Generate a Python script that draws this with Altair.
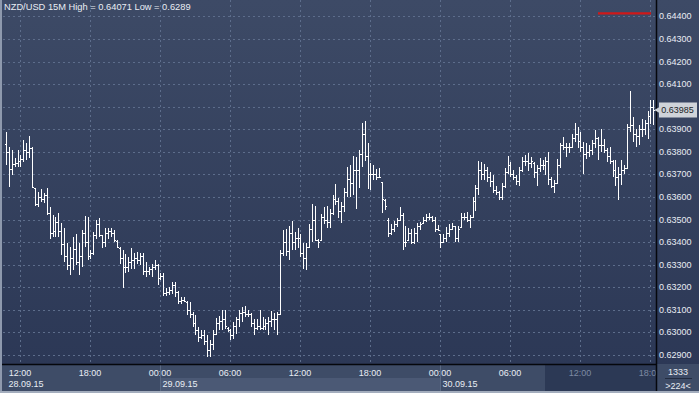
import altair as alt
import pandas as pd

TITLE = "NZD/USD 15M High = 0.64071 Low = 0.6289"

# OHLC of the 15-minute bars, in points (1 point = 0.00001)
HIGH = [
    63890, 63823, 63808, 63771, 63808, 63786, 63853, 63838, 63870, 63820,
    63642, 63623, 63634, 63616, 63642, 63554, 63520, 63512, 63527, 63483,
    63461, 63394, 63379, 63424, 63438, 63394, 63453, 63515, 63512, 63364,
    63446, 63498, 63505, 63431, 63461, 63461, 63461, 63453, 63409, 63379,
    63367, 63347, 63332, 63372, 63350, 63357, 63350, 63350, 63313, 63290,
    63305, 63323, 63305, 63264, 63265, 63195, 63200, 63225, 63224, 63185,
    63157, 63158, 63138, 63135, 63091, 63076, 63024, 63012, 63012, 62990,
    62968, 63010, 63066, 63072, 63101, 63098, 63024, 63017, 63046, 63069,
    63098, 63113, 63116, 63101, 63086, 63061, 63061, 63101, 63069, 63061,
    63069, 63095, 63086, 63091, 63364, 63453, 63456, 63471, 63495, 63446,
    63461, 63435, 63394, 63394, 63480, 63569, 63560, 63412, 63523, 63557,
    63560, 63545, 63608, 63657, 63594, 63579, 63642, 63734, 63742, 63782,
    63779, 63808, 63929, 63938, 63841, 63749, 63742, 63722, 63727, 63668,
    63589, 63505, 63480, 63495, 63505, 63554, 63530, 63471, 63461, 63456,
    63461, 63483, 63490, 63512, 63524, 63527, 63515, 63512, 63475, 63438,
    63435, 63468, 63480, 63486, 63471, 63471, 63530, 63530, 63535, 63520,
    63598, 63653, 63761, 63756, 63746, 63734, 63712, 63697, 63648, 63628,
    63660, 63727, 63782, 63756, 63719, 63697, 63734, 63779, 63786, 63793,
    63779, 63756, 63742, 63771, 63764, 63779, 63801, 63690, 63675, 63767,
    63841, 63867, 63838, 63841, 63878, 63928, 63910, 63888, 63844, 63837,
    63829, 63852, 63899, 63866, 63903, 63859, 63815, 63822, 63766, 63763,
    63733, 63763, 63741, 63925, 64071, 63955, 63903, 63918, 63947, 63943,
    63981, 64029, 64029,
]
LOW = [
    63742, 63645, 63697, 63734, 63734, 63734, 63756, 63764, 63771, 63638,
    63560, 63557, 63579, 63574, 63520, 63416, 63424, 63424, 63421, 63342,
    63313, 63276, 63254, 63276, 63298, 63254, 63290, 63379, 63320, 63327,
    63342, 63416, 63424, 63372, 63379, 63416, 63424, 63401, 63372, 63305,
    63197, 63261, 63268, 63283, 63283, 63305, 63298, 63254, 63246, 63254,
    63246, 63276, 63209, 63231, 63160, 63160, 63165, 63170, 63157, 63126,
    63128, 63136, 63076, 63066, 63024, 62990, 62958, 62972, 62943, 62890,
    62891, 62921, 62987, 63010, 63009, 63017, 63002, 62968, 62972, 62995,
    63024, 63046, 63069, 63069, 63024, 62987, 63009, 63009, 63012, 63009,
    62987, 63024, 63009, 62987, 63076, 63338, 63338, 63320, 63364, 63364,
    63372, 63332, 63283, 63276, 63372, 63401, 63409, 63372, 63409, 63480,
    63461, 63461, 63520, 63564, 63509, 63483, 63535, 63601, 63601, 63608,
    63545, 63638, 63734, 63761, 63634, 63631, 63675, 63675, 63682, 63527,
    63542, 63424, 63431, 63446, 63468, 63495, 63364, 63379, 63409, 63390,
    63391, 63401, 63453, 63483, 63490, 63500, 63490, 63446, 63450, 63375,
    63394, 63401, 63421, 63453, 63401, 63401, 63461, 63498, 63490, 63461,
    63505, 63539, 63608, 63675, 63675, 63668, 63645, 63616, 63608, 63586,
    63586, 63642, 63702, 63687, 63675, 63653, 63648, 63712, 63737, 63716,
    63727, 63682, 63648, 63712, 63719, 63697, 63653, 63638, 63619, 63660,
    63727, 63808, 63779, 63793, 63815, 63844, 63815, 63800, 63701, 63770,
    63778, 63785, 63815, 63763, 63800, 63795, 63756, 63748, 63689, 63648,
    63586, 63652, 63704, 63726, 63888, 63844, 63822, 63829, 63866, 63874,
    63859, 63925, 63918,
]
OPEN = [
    63835, 63800, 63725, 63745, 63750, 63760, 63770, 63810, 63800, 63815,
    63640, 63570, 63600, 63590, 63610, 63530, 63440, 63450, 63490, 63450,
    63390, 63340, 63300, 63330, 63370, 63310, 63340, 63440, 63400, 63340,
    63350, 63430, 63480, 63430, 63400, 63440, 63450, 63440, 63405, 63375,
    63330, 63290, 63290, 63310, 63320, 63330, 63320, 63340, 63270, 63270,
    63280, 63290, 63300, 63240, 63250, 63175, 63180, 63190, 63210, 63180,
    63140, 63145, 63135, 63100, 63080, 63040, 63010, 62980, 62990, 62960,
    62920, 62950, 62995, 63040, 63050, 63060, 63020, 63010, 62990, 63030,
    63060, 63085, 63090, 63080, 63080, 63040, 63020, 63030, 63020, 63030,
    63040, 63050, 63060, 63060, 63080, 63350, 63400, 63360, 63440, 63400,
    63420, 63420, 63350, 63330, 63380, 63460, 63500, 63410, 63410, 63510,
    63500, 63490, 63530, 63590, 63580, 63540, 63560, 63620, 63680, 63660,
    63720, 63720, 63790, 63880, 63780, 63700, 63700, 63700, 63690, 63665,
    63585, 63500, 63440, 63460, 63480, 63500, 63520, 63400, 63410, 63440,
    63400, 63440, 63470, 63485, 63500, 63510, 63510, 63500, 63460, 63435,
    63400, 63420, 63440, 63460, 63470, 63420, 63465, 63510, 63510, 63500,
    63510, 63580, 63640, 63720, 63700, 63720, 63690, 63670, 63630, 63620,
    63600, 63650, 63710, 63740, 63700, 63690, 63670, 63720, 63760, 63760,
    63750, 63750, 63710, 63730, 63740, 63740, 63760, 63680, 63650, 63660,
    63740, 63830, 63820, 63820, 63820, 63860, 63880, 63850, 63820, 63790,
    63800, 63810, 63840, 63860, 63830, 63830, 63810, 63780, 63760, 63720,
    63690, 63700, 63720, 63730, 63910, 63920, 63880, 63870, 63900, 63900,
    63930, 63960, 64000,
]
CLOSE = [
    63800, 63725, 63745, 63750, 63760, 63770, 63810, 63800, 63815, 63645,
    63570, 63600, 63590, 63610, 63530, 63440, 63450, 63490, 63450, 63390,
    63340, 63300, 63330, 63370, 63310, 63340, 63440, 63400, 63340, 63350,
    63430, 63480, 63430, 63400, 63440, 63450, 63440, 63410, 63380, 63330,
    63290, 63290, 63310, 63320, 63330, 63320, 63340, 63270, 63270, 63280,
    63290, 63300, 63240, 63250, 63175, 63180, 63190, 63210, 63180, 63140,
    63145, 63140, 63100, 63080, 63040, 63010, 62980, 62990, 62960, 62920,
    62950, 62995, 63040, 63050, 63060, 63030, 63010, 62990, 63030, 63060,
    63085, 63090, 63080, 63080, 63040, 63020, 63030, 63020, 63030, 63040,
    63050, 63060, 63060, 63080, 63350, 63400, 63360, 63440, 63400, 63420,
    63420, 63350, 63330, 63380, 63460, 63500, 63410, 63400, 63510, 63500,
    63490, 63530, 63590, 63580, 63540, 63560, 63620, 63680, 63660, 63720,
    63720, 63790, 63880, 63780, 63700, 63700, 63700, 63690, 63690, 63590,
    63560, 63440, 63460, 63480, 63500, 63520, 63400, 63400, 63440, 63400,
    63440, 63470, 63480, 63500, 63510, 63510, 63500, 63460, 63455, 63400,
    63420, 63440, 63460, 63470, 63420, 63460, 63510, 63510, 63500, 63510,
    63580, 63640, 63720, 63700, 63720, 63690, 63670, 63630, 63620, 63600,
    63650, 63710, 63740, 63700, 63690, 63670, 63720, 63760, 63760, 63750,
    63760, 63710, 63730, 63740, 63740, 63760, 63680, 63650, 63660, 63740,
    63830, 63820, 63820, 63820, 63860, 63880, 63850, 63820, 63790, 63800,
    63810, 63840, 63860, 63830, 63830, 63810, 63780, 63760, 63720, 63690,
    63700, 63720, 63730, 63910, 63920, 63880, 63870, 63900, 63900, 63930,
    63960, 64000, 63985,
]

TIME_BARS = [5, 29, 53, 77, 101, 125, 149, 173, 197, 221]
TIME_LABELS = ["12:00", "18:00", "00:00", "06:00", "12:00", "18:00",
               "00:00", "06:00", "12:00", "18:00"]
DATE_BARS = [0, 53, 149]
DATE_LABELS = ["28.09.15", "29.09.15", "30.09.15"]
PRICE_TICKS = [0.629, 0.630, 0.631, 0.632, 0.633, 0.634, 0.635, 0.636,
               0.637, 0.638, 0.639, 0.640, 0.641, 0.642, 0.643, 0.644]
LAST_PRICE = [0.63985]
BAR_COUNT_TEXT = ["1333", ">224<"]

FONT = "Liberation Sans"
TXT = "#e9edf4"
DIM = "#7d8aa3"
GRID = "#5d6d8b"

bars = pd.DataFrame({
    "i": list(range(len(HIGH))),
    "h": [v / 100000 for v in HIGH],
    "l": [v / 100000 for v in LOW],
    "o": [v / 100000 for v in OPEN],
    "c": [v / 100000 for v in CLOSE],
})
times = pd.DataFrame({"i": TIME_BARS, "t": TIME_LABELS})
dates = pd.DataFrame({"i": DATE_BARS, "t": DATE_LABELS})
prices = pd.DataFrame({"p": PRICE_TICKS})
last = pd.DataFrame({"p": LAST_PRICE})
dummy = pd.DataFrame({"d": [0]})

# rounded scales so that the 1-px bar strokes land on whole pixels
XS = alt.Scale(domain=[-2.0228, 237.63], nice=False, zero=False, round=True)
YS = alt.Scale(domain=[0.627315, 0.644728], nice=False, zero=False, round=True)


def X(f):
    return alt.X(f, type="quantitative", scale=XS, axis=None)


def Y(f):
    return alt.Y(f, type="quantitative", scale=YS, axis=None)


def box(x0, x1, y0, y1, color):
    return alt.Chart(dummy).mark_rect(color=color).encode(
        x=alt.value(x0), x2=alt.value(x1), y=alt.value(y0), y2=alt.value(y1))


def hline(x0, x1, y, color, w=1):
    return alt.Chart(dummy).mark_rule(color=color, strokeWidth=w).encode(
        x=alt.value(x0), x2=alt.value(x1), y=alt.value(y))


def vline(x, y0, y1, color, w=1):
    return alt.Chart(dummy).mark_rule(color=color, strokeWidth=w).encode(
        x=alt.value(x), y=alt.value(y0), y2=alt.value(y1))


grad = alt.LinearGradient(
    gradient="linear", x1=0, x2=0, y1=0, y2=1,
    stops=[alt.GradientStop(color="#3d4a66", offset=0),
           alt.GradientStop(color="#2c3856", offset=1)])
bg = alt.Chart(dummy).mark_rect(color=grad).encode(
    x=alt.value(0), x2=alt.value(699), y=alt.value(0), y2=alt.value(364))

panel = box(0, 657, 364, 391, "#3e4c67")
strip = box(161, 441, 378, 391, "#4b5975")
darkzone = box(545, 657, 365, 391, "#2c3955")
cornerbox = box(657, 699, 364, 391, "#3e4c67")

vgrid = alt.Chart(times).mark_rule(color=GRID, strokeDash=[2, 3], xOffset=0.5).encode(
    x=X("i"), y=alt.value(0), y2=alt.value(364))
hgrid = alt.Chart(prices).mark_rule(color=GRID, strokeDash=[2, 3], yOffset=0.5).encode(
    y=Y("p"), x=alt.value(3), x2=alt.value(656))

BAR_COLOR = "#ffffff"
hl = alt.Chart(bars).mark_rule(color=BAR_COLOR, strokeWidth=1, xOffset=0.5).encode(
    x=X("i"), y=Y("h"), y2="l:Q")
op = alt.Chart(bars).mark_rule(color=BAR_COLOR, strokeWidth=1,
                               xOffset=-1, x2Offset=1, yOffset=0.5).encode(
    x=X("i"), x2="i:Q", y=Y("o"))
cl = alt.Chart(bars).mark_rule(color=BAR_COLOR, strokeWidth=1,
                               xOffset=0, x2Offset=2, yOffset=0.5).encode(
    x=X("i"), x2="i:Q", y=Y("c"))

# price labels; the one hidden under the last-price box is left out
ylab = alt.Chart(prices).transform_filter(
    f"abs(datum.p - {LAST_PRICE[0]}) > 0.0003"
).mark_text(
    align="left", baseline="middle", font=FONT, fontSize=9, color=TXT).encode(
    x=alt.value(659), y=Y("p"), text=alt.Text("p:Q", format=".5f"))

xlab = alt.Chart(times).mark_text(
    align="center", baseline="middle", font=FONT, fontSize=9).encode(
    x=X("i"), y=alt.value(373), text="t:N",
    color=alt.condition(alt.datum.i > 180, alt.value(DIM), alt.value(TXT)))
dlab = alt.Chart(dates).mark_text(
    align="left", baseline="middle", font=FONT, fontSize=9, color=TXT, dx=2.5).encode(
    x=X("i"), y=alt.value(384), text="t:N")

dividers = alt.layer(vline(160.5, 365, 391, "#5a6983"), vline(440.5, 365, 391, "#5a6983"))

axis_h = hline(0, 657, 364.5, "#05070c", 1.5)
axis_v = vline(656.5, 0, 391, "#05070c", 1.5)

title = alt.Chart(dummy).mark_text(
    align="left", baseline="alphabetic", font=FONT, fontSize=9.3, color=TXT).encode(
    x=alt.value(4), y=alt.value(10), text=alt.value(TITLE))
redline = hline(598, 651, 13.3, "#d01818", 2.2)

pbox = alt.Chart(last).mark_rect(color="#cfd3d9", yOffset=-7.5, y2Offset=7.5).encode(
    x=alt.value(659), x2=alt.value(697), y=Y("p"), y2="p:Q")
parrow = alt.Chart(last).mark_point(shape="triangle-left", filled=True, opacity=1,
                                    color="#cfd3d9", size=70).encode(
    x=alt.value(658), y=Y("p"))
ptext = alt.Chart(last).mark_text(
    align="center", baseline="middle", font=FONT, fontSize=9, color="#1b1f27").encode(
    x=alt.value(677.5), y=Y("p"), text=alt.Text("p:Q", format=".5f"))

cnt1 = alt.Chart(dummy).mark_text(align="center", baseline="middle", font=FONT,
                                  fontSize=9, color=TXT).encode(
    x=alt.value(678), y=alt.value(372), text=alt.value(BAR_COUNT_TEXT[0]))
cnt2 = alt.Chart(dummy).mark_text(align="center", baseline="middle", font=FONT,
                                  fontSize=9, color=TXT).encode(
    x=alt.value(678), y=alt.value(386), text=alt.value(BAR_COUNT_TEXT[1]))
sep = hline(665, 692, 378.5, "#222c40", 1)

left_border = box(0, 2, 0, 393, "#8e99ad")
bottom_border = box(0, 699, 391, 393, "#a3adbd")

chart = alt.layer(
    bg, panel, strip, darkzone, vgrid, hgrid, hl, op, cl, ylab, xlab, dlab,
    dividers, cornerbox, axis_h, axis_v, title, redline, pbox, parrow, ptext,
    cnt1, cnt2, sep, left_border, bottom_border,
).properties(
    width=699, height=393, padding=0,
    autosize=alt.AutoSizeParams(type="none"),
    background="#2c3956",
).configure_view(stroke=None)

chart.save("out.html", embed_options={"renderer": "svg", "actions": False})
